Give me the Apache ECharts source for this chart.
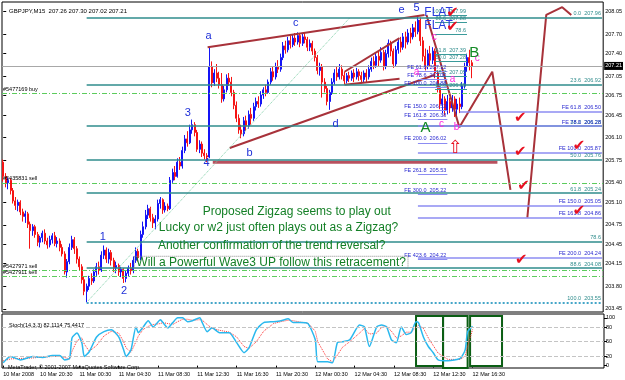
<!DOCTYPE html>
<html>
<head>
<meta charset="utf-8">
<title>GBPJPY,M15</title>
<script src="https://cdn.jsdelivr.net/npm/echarts@6/dist/echarts.min.js"></script>
<style>
  html, body { margin: 0; padding: 0; background: #fff; }
  #chart { width: 625px; height: 380px; }
</style>
</head>
<body>
<div id="chart"></div>
<script>
// ---- data ----
const barCount = 245 // slots on the time axis (bars + empty space on the right)

// M15 candles: [open, close, low, high]
const candles = [
  [205.72, 205.50, 205.42, 205.76], [205.50, 205.40, 205.33, 205.55], [205.40, 205.44, 205.30, 205.48], [205.44, 205.28, 205.22, 205.47],
  [205.28, 205.12, 205.08, 205.32], [205.12, 205.05, 204.98, 205.18], [205.05, 205.10, 204.96, 205.14], [205.10, 204.95, 204.90, 205.13],
  [204.95, 204.88, 204.80, 205.00], [204.88, 204.92, 204.78, 204.97], [204.92, 204.76, 204.70, 204.95], [204.76, 204.66, 204.38, 204.80],
  [204.66, 204.72, 204.58, 204.76], [204.72, 204.60, 204.55, 204.75], [204.60, 204.48, 204.42, 204.64], [204.48, 204.55, 204.40, 204.58],
  [204.55, 204.62, 204.48, 204.66], [204.62, 204.50, 204.45, 204.68], [204.50, 204.44, 204.38, 204.55], [204.44, 204.52, 204.40, 204.58],
  [204.52, 204.58, 204.46, 204.62], [204.58, 204.46, 204.42, 204.64], [204.46, 204.50, 204.40, 204.56], [204.50, 204.40, 204.34, 204.54],
  [204.40, 204.30, 204.26, 204.45], [204.30, 204.02, 203.98, 204.34], [204.02, 204.18, 203.93, 204.22], [204.18, 204.40, 204.14, 204.46],
  [204.40, 204.52, 204.36, 204.58], [204.52, 204.38, 204.30, 204.56], [204.38, 204.22, 204.15, 204.42], [204.22, 204.10, 204.04, 204.26],
  [204.10, 203.90, 203.84, 204.14], [203.90, 203.72, 203.66, 203.95], [203.72, 203.80, 203.55, 203.84], [203.80, 203.92, 203.74, 203.96],
  [203.92, 203.88, 203.82, 204.00], [203.88, 204.02, 203.85, 204.06], [204.02, 204.10, 203.96, 204.16], [204.10, 204.05, 203.98, 204.18],
  [204.05, 204.28, 204.02, 204.34], [204.28, 204.36, 204.22, 204.43], [204.36, 204.22, 204.16, 204.40], [204.22, 204.32, 204.15, 204.38],
  [204.32, 204.20, 204.12, 204.36], [204.20, 204.08, 204.02, 204.24], [204.08, 204.12, 204.00, 204.18], [204.12, 204.02, 203.96, 204.15],
  [204.02, 204.06, 203.94, 204.10], [204.06, 203.92, 203.85, 204.08], [203.92, 204.00, 203.86, 204.04], [204.00, 204.08, 203.95, 204.12],
  [204.08, 204.04, 203.98, 204.16], [204.04, 204.20, 204.00, 204.26], [204.20, 204.34, 204.16, 204.40], [204.34, 204.24, 204.18, 204.38],
  [204.24, 204.60, 204.20, 204.66], [204.60, 204.72, 204.55, 204.80], [204.72, 204.90, 204.68, 204.98], [204.90, 205.00, 204.84, 205.06],
  [205.00, 204.86, 204.80, 205.03], [204.86, 204.78, 204.70, 204.92], [204.78, 204.84, 204.68, 204.90], [204.84, 205.08, 204.80, 205.14],
  [205.08, 205.14, 205.00, 205.18], [205.14, 204.98, 204.92, 205.16], [204.98, 205.04, 204.94, 205.10], [205.04, 205.00, 204.96, 205.08],
  [205.00, 205.44, 204.98, 205.49], [205.44, 205.56, 205.40, 205.62], [205.56, 205.50, 205.44, 205.66], [205.50, 205.72, 205.48, 205.78],
  [205.72, 205.66, 205.60, 205.80], [205.66, 205.90, 205.62, 205.96], [205.90, 206.08, 205.86, 206.14], [206.08, 206.02, 205.96, 206.20],
  [206.02, 206.22, 206.00, 206.30], [206.22, 206.30, 206.16, 206.38], [206.30, 206.18, 206.12, 206.34], [206.18, 205.92, 205.88, 206.22],
  [205.92, 206.00, 205.86, 206.06], [206.00, 205.86, 205.80, 206.04], [205.86, 205.82, 205.76, 205.92], [205.82, 205.80, 205.72, 205.86],
  [205.80, 207.20, 205.78, 207.50], [207.20, 206.95, 206.88, 207.28], [206.95, 207.10, 206.90, 207.16], [207.10, 207.02, 206.96, 207.24],
  [207.02, 206.92, 206.86, 207.12], [206.92, 206.70, 206.64, 207.10], [206.70, 206.84, 206.66, 206.90], [206.84, 207.02, 206.80, 207.08],
  [207.02, 206.96, 206.90, 207.10], [206.96, 206.80, 206.74, 207.04], [206.80, 206.60, 206.54, 206.84], [206.60, 206.40, 206.34, 206.66],
  [206.40, 206.22, 206.16, 206.46], [206.22, 206.16, 206.09, 206.30], [206.16, 206.36, 206.12, 206.42], [206.36, 206.28, 206.20, 206.44],
  [206.28, 206.46, 206.24, 206.52], [206.46, 206.40, 206.30, 206.56], [206.40, 206.58, 206.36, 206.64], [206.58, 206.66, 206.52, 206.72],
  [206.66, 206.62, 206.56, 206.74], [206.62, 206.76, 206.58, 206.82], [206.76, 206.84, 206.70, 206.88], [206.84, 206.80, 206.74, 206.92],
  [206.80, 206.96, 206.78, 207.00], [206.96, 207.12, 206.92, 207.18], [207.12, 207.04, 206.98, 207.20], [207.04, 207.20, 207.00, 207.26],
  [207.20, 207.16, 207.10, 207.30], [207.16, 207.34, 207.12, 207.40], [207.34, 207.52, 207.30, 207.58], [207.52, 207.46, 207.40, 207.60],
  [207.46, 207.60, 207.42, 207.66], [207.60, 207.54, 207.48, 207.68], [207.54, 207.64, 207.50, 207.70], [207.64, 207.58, 207.52, 207.72],
  [207.58, 207.68, 207.54, 207.73], [207.68, 207.56, 207.50, 207.72], [207.56, 207.66, 207.52, 207.71], [207.66, 207.62, 207.56, 207.72],
  [207.62, 207.50, 207.44, 207.66], [207.50, 207.56, 207.44, 207.62], [207.56, 207.44, 207.38, 207.60], [207.44, 207.34, 207.28, 207.48],
  [207.34, 207.14, 207.08, 207.38], [207.14, 207.20, 207.06, 207.26], [207.20, 206.96, 206.72, 207.24], [206.96, 206.86, 206.80, 207.02],
  [206.86, 206.66, 206.60, 206.90], [206.66, 206.80, 206.53, 206.84], [206.80, 206.96, 206.76, 207.02], [206.96, 207.10, 206.92, 207.16],
  [207.10, 207.04, 206.98, 207.20], [207.04, 207.16, 207.00, 207.24], [207.16, 207.06, 207.00, 207.22], [207.06, 206.98, 206.92, 207.12],
  [206.98, 207.06, 206.94, 207.10], [207.06, 207.02, 206.96, 207.12], [207.02, 207.10, 206.98, 207.14], [207.10, 207.04, 206.96, 207.16],
  [207.04, 207.12, 207.00, 207.18], [207.12, 207.06, 206.98, 207.16], [207.06, 207.00, 206.94, 207.12], [207.00, 207.10, 206.96, 207.14],
  [207.10, 207.04, 206.96, 207.16], [207.04, 207.16, 207.00, 207.22], [207.16, 207.28, 207.12, 207.34], [207.28, 207.22, 207.16, 207.36],
  [207.22, 207.36, 207.18, 207.42], [207.36, 207.30, 207.20, 207.44], [207.30, 207.42, 207.26, 207.50], [207.42, 207.20, 207.14, 207.46],
  [207.20, 207.40, 207.16, 207.46], [207.40, 207.56, 207.34, 207.62], [207.56, 207.44, 207.36, 207.60], [207.44, 207.24, 207.18, 207.48],
  [207.24, 207.46, 207.20, 207.52], [207.46, 207.58, 207.40, 207.64], [207.58, 207.50, 207.42, 207.66], [207.50, 207.66, 207.46, 207.72],
  [207.66, 207.58, 207.48, 207.74], [207.58, 207.72, 207.54, 207.78], [207.72, 207.66, 207.56, 207.80], [207.66, 207.80, 207.62, 207.86],
  [207.80, 207.74, 207.66, 207.90], [207.74, 207.92, 207.70, 207.99], [207.92, 207.60, 207.52, 207.96], [207.60, 207.36, 207.28, 207.66],
  [207.36, 207.22, 207.14, 207.48], [207.22, 207.40, 207.16, 207.46], [207.40, 207.30, 207.20, 207.52], [207.30, 207.44, 207.24, 207.50],
  [207.44, 207.10, 207.02, 207.48], [207.10, 206.86, 206.80, 207.14], [206.86, 206.62, 206.54, 206.90], [206.62, 206.70, 206.48, 206.78],
  [206.70, 206.52, 206.44, 206.74], [206.52, 206.66, 206.46, 206.76], [206.66, 206.56, 206.48, 206.72], [206.56, 206.70, 206.50, 206.76],
  [206.70, 206.54, 206.42, 206.74], [206.54, 206.62, 206.40, 206.70], [206.62, 206.58, 206.48, 206.72], [206.58, 206.90, 206.54, 206.96],
  [206.90, 207.20, 206.86, 207.26], [207.20, 207.34, 207.12, 207.40], [207.34, 207.26, 207.14, 207.46], [207.26, 207.21, 207.02, 207.30]
]

const timeBars = [0, 15, 31, 47, 63, 79, 95, 111, 127, 143, 159, 175, 191]
const timeLabels = ['10 Mar 2008', '10 Mar 20:30', '11 Mar 00:30', '11 Mar 04:30', '11 Mar 08:30', '11 Mar 12:30',
  '11 Mar 16:30', '11 Mar 20:30', '12 Mar 00:30', '12 Mar 04:30', '12 Mar 08:30', '12 Mar 12:30', '12 Mar 16:30']
const priceTicks = [208.05, 207.70, 207.40, 207.05, 206.75, 206.45, 206.10, 205.75, 205.40, 205.10, 204.75, 204.45, 204.15, 203.80, 203.45]
const lastPrice = 207.21

// Stochastic(14,3,3)
const stochTicks = [0, 20, 50, 80, 100]
const stochBars = [0, 3, 7, 12, 16, 20, 23, 25, 27, 28, 30, 32, 33, 35, 38, 41, 44, 47, 49, 50, 52, 54, 55, 57, 59, 61,
  64, 65, 67, 69, 71, 73, 75, 77, 80, 81, 83, 85, 88, 92, 95, 98, 100, 103, 106, 110, 113, 116, 118, 121, 124, 127, 128,
  132, 134, 136, 138, 141, 145, 147, 149, 152, 154, 156, 158, 160, 162, 164, 166, 168, 169, 171, 173, 175, 177, 181, 186,
  188, 189, 191]
const stochMain = [6, 19, 12, 19, 17, 21, 21, 12, 15, 58, 68, 48, 19, 29, 60, 71, 75, 60, 33, 19, 33, 81, 69, 81, 94, 81,
  96, 90, 79, 90, 100, 100, 92, 94, 100, 90, 71, 79, 69, 69, 48, 27, 37, 75, 90, 92, 94, 98, 90, 90, 88, 54, 8,
  8, 6, 48, 50, 54, 85, 81, 40, 81, 85, 81, 54, 48, 81, 65, 69, 92, 90, 60, 40, 27, 12, 10, 15,
  33, 71, 82.11]
const stochSignal = [10, 14, 15, 16, 18, 19, 20, 17, 14, 30, 52, 58, 45, 30, 42, 62, 72, 68, 50, 37, 28, 50, 62, 76, 82, 86,
  88, 90, 88, 86, 92, 97, 97, 95, 96, 95, 86, 78, 74, 70, 60, 40, 36, 50, 72, 88, 92, 95, 94, 91, 89, 72, 50,
  14, 8, 22, 38, 50, 68, 78, 66, 68, 80, 82, 72, 58, 62, 70, 70, 80, 84, 78, 58, 42, 26, 13, 13,
  20, 40, 75.44]

// Fibonacci retracement 203.55 -> 207.96
const fibLevels = [207.96, 206.92, 206.28, 205.76, 205.24, 204.49, 204.08, 203.55]
const fibLabels = ['0.0  207.96', '23.6  206.92', '38.2  206.28', '50.0  205.76', '61.8  205.24', '78.6', '88.6  204.08', '100.0  203.55']
// small retracement near the top
const fib2Levels = [207.99, 207.88, 207.70, 207.39, 207.28, 207.05, 206.85]
const fib2Labels = ['100.0  207.99', '88.6  207.88', '78.6', '61.8  207.39', '50.0  207.28', '38.2  207.05', '23.6  206.85']
// Fibonacci expansions
const feRightLevels = [206.50, 206.28, 205.87, 205.05, 204.86, 204.24]
const feRightLabels = ['FE 61.8  206.50', 'FE 78.6  206.28', 'FE 100.0  205.87', 'FE 150.0  205.05', 'FE 161.8  204.86', 'FE 200.0  204.24']
const feRightStart = [186, 169, 169, 169, 169, 169]
const feLeftLevels = [207.12, 207.00, 206.88, 206.52, 206.38, 206.02, 205.53, 205.22, 204.22]
const feLeftLabels = ['FE 61.8  207.12', 'FE 78.6  207.00', 'FE 100.0  206.88', 'FE 150.0  206.52', 'FE 161.8  206.38',
  'FE 200.0  206.02', 'FE 261.8  205.53', 'FE 300.0  205.22', 'FE 423.6  204.22']
// open orders
const orderLevels = [206.78, 205.40, 204.05, 203.95]
const orderLabels = ['#5477169 buy', '#5435831 sell', '#5427971 sell', '#5427911 sell']

// hand drawn objects (bar position, price)
const channelTop = [[83.3, 207.50], [171.7, 208.00]]
const channelBottom = [[92.3, 205.94], [175.7, 207.07]]
const wedgeTop = [[139.1, 207.12], [161.5, 207.64]]
const wedgeBottom = [[139.1, 206.92], [161.5, 207.01]]
const supportLine = [[85.4, 205.72], [201.4, 205.72]]
const projectionDown = [[172.5, 208.00], [185.9, 206.26], [199.3, 207.12], [206.7, 205.29]]
const projectionUp = [[213.6, 204.86], [221.3, 208.00], [227.8, 208.12], [231.5, 208.00]]
const trendDotted = [[34.5, 203.57], [141.1, 207.95]]

const waveText = ['a', 'b', 'c', 'd', 'e', '5', '3', '4', '1', '2']
const waveBar = [83.7, 100.4, 119.2, 135.4, 162.3, 168.4, 75.2, 82.9, 40.6, 49.2]
const wavePrice = [207.67, 205.86, 207.88, 206.31, 208.08, 208.11, 206.48, 205.71, 204.56, 203.73]
const pinkText = ['a', 'a', 'c', 'b', 'c', 'c']
const pinkBar = [168.4, 183.1, 178.6, 184.7, 175.7, 193.2]
const pinkPrice = [207.12, 207.01, 206.30, 206.26, 207.66, 207.33]
const greenText = ['A', 'B']
const greenBar = [172.1, 192.0]
const greenPrice = [206.25, 207.41]
const flatBar = [177.4, 177.4]
const flatPrice = [208.03, 207.84]
const checkBar = [183.1, 183.1, 210.7, 210.7, 234.7, 212.0, 234.7, 211.1]
const checkPrice = [208.03, 207.81, 206.40, 205.88, 205.97, 205.35, 204.96, 204.21]
const noteText = ['Proposed Zigzag seems to play out', 'Lucky or w2 just often plays out as a Zigzag?',
  'Another confirmation of the trend reversal?', 'Will a Powerful Wave3 UP follow this retracement?']
const noteBar = [119.6, 112.2, 109.4, 109.2]
const notePrice = [204.95, 204.70, 204.42, 204.17]

// ---- chart ----
const chart = echarts.init(document.getElementById('chart'))
const font = 'Liberation Sans'
const cats = []
for (let i = 0; i < barCount; i++) cats.push(String(i))

// horizontal segment for markLine
function hSeg (x1, x2, y, text, color, textColor, width, type, pos) {
  return [
    {
      coord: [x1, y],
      lineStyle: {color: color, width: width, type: type},
      label: {
        show: !!text, formatter: text || '', position: pos || 'insideEndTop', distance: 1,
        color: textColor, fontSize: 5.5, fontFamily: font
      }
    },
    {coord: [x2, y]}
  ]
}

const mainLines = []
fibLevels.forEach(function (v, i) {
  const last = i === fibLevels.length - 1
  mainLines.push(hSeg(34, 244, v, fibLabels[i], last ? '#45a6c8' : '#2f8c8c', '#2f8c8c', last ? 2 : 1.5, last ? 'dotted' : 'solid'))
})
fib2Levels.forEach(function (v, i) {
  mainLines.push(hSeg(176, 189, v, fib2Labels[i], '#3a9a9a', '#2f8c8c', 1, 'solid'))
})
feRightLevels.forEach(function (v, i) {
  mainLines.push(hSeg(feRightStart[i], 244, v, feRightLabels[i], '#8c8cf2', '#2a2ad0', 1.5, 'solid'))
})
feLeftLevels.forEach(function (v, i) {
  mainLines.push(hSeg(169, 181, v, feLeftLabels[i], '#8c8cf2', '#2a2ad0', 1, 'solid'))
})
orderLevels.forEach(function (v, i) {
  mainLines.push({
    yAxis: v,
    lineStyle: {color: '#5ccc5c', width: 1, type: [5, 2, 1, 2]},
    label: {show: true, formatter: orderLabels[i], position: 'insideStartTop', distance: 1, color: '#000', fontSize: 5.5, fontFamily: font}
  })
})
mainLines.push({
  yAxis: lastPrice,
  lineStyle: {color: '#a8a8a8', width: 1, type: 'solid'},
  label: {
    show: true, formatter: lastPrice.toFixed(2), position: 'end', distance: 1,
    color: '#fff', backgroundColor: '#000', padding: [1, 1], fontSize: 5.5, fontFamily: font
  }
})

function textData (texts, bars, prices, label) {
  return texts.map(function (t, i) {
    return {value: [bars[i], prices[i]], label: Object.assign({show: true, position: 'inside', formatter: t, opacity: 1}, label)}
  })
}
let notes = []
notes = notes.concat(textData(waveText, waveBar, wavePrice, {color: '#1f30d8', fontSize: 11, fontFamily: font}))
notes = notes.concat(textData(pinkText, pinkBar, pinkPrice, {color: '#ff22dd', fontSize: 10, fontFamily: font}))
notes = notes.concat(textData(greenText, greenBar, greenPrice, {color: '#138a25', fontSize: 15, fontFamily: font}))
notes = notes.concat(textData(['FLAT', 'FLAT'], flatBar, flatPrice, {color: '#2a3ae0', fontSize: 12, fontFamily: font}))
notes = notes.concat(textData(checkBar.map(function () { return '✔' }), checkBar, checkPrice, {color: '#e81020', fontSize: 15, fontFamily: 'DejaVu Sans'}))
notes = notes.concat(textData(['⇧'], [184.3], [205.94], {color: '#e81020', fontSize: 18, fontFamily: 'DejaVu Sans'}))
notes = notes.concat(textData(noteText.slice(0, 3), noteBar, notePrice, {color: '#137f25', fontSize: 12, fontFamily: font}))
notes = notes.concat(textData(noteText.slice(3), noteBar.slice(3), notePrice.slice(3), {
  color: '#137f25', fontSize: 12, fontFamily: font, borderColor: '#8a8a8a', borderWidth: 1, borderType: 'dotted', padding: [0, 2]
}))

function drawn (points, color, width, type) {
  return {
    type: 'line', xAxisIndex: 1, yAxisIndex: 0, data: points, symbol: 'none', silent: true, z: 4,
    lineStyle: {color: color, width: width, type: type || 'solid'}
  }
}

const showLabel = function (index) { return timeBars.indexOf(index) >= 0 }

chart.setOption({
  animation: false,
  backgroundColor: '#fff',
  title: [
    {text: 'GBPJPY,M15  207.26 207.30 207.02 207.21', left: 4, top: 3, textStyle: {fontSize: 6, fontWeight: 'normal', color: '#000', fontFamily: font}},
    {text: 'Stoch(14,3,3) 82.1114 75.4417', left: 4, top: 317, textStyle: {fontSize: 5.5, fontWeight: 'normal', color: '#000', fontFamily: font}},
    {text: 'MetaTrader, © 2001-2007 MetaQuotes Software Corp.', left: 3, top: 359, textStyle: {fontSize: 5.5, fontWeight: 'normal', color: '#000', fontFamily: font}}
  ],
  grid: [
    {left: 2, right: 21, top: 2, height: 310, show: true, borderColor: '#000', borderWidth: 1, backgroundColor: '#fff'},
    {left: 2, right: 21, top: 314, height: 54, show: true, borderColor: '#000', borderWidth: 1, backgroundColor: '#fff'}
  ],
  xAxis: [
    {type: 'category', gridIndex: 0, data: cats, boundaryGap: true, axisLine: {show: false}, axisTick: {show: false}, axisLabel: {show: false}},
    {type: 'value', gridIndex: 0, min: -0.5, max: barCount - 0.5, show: false},
    {
      type: 'category', gridIndex: 1, data: cats, boundaryGap: true,
      axisLine: {show: false},
      axisTick: {show: true, interval: showLabel, alignWithLabel: true, length: 2, lineStyle: {color: '#000'}},
      axisLabel: {
        interval: showLabel, align: 'left', margin: 3, fontSize: 5.5, color: '#000', fontFamily: font,
        formatter: function (v) { return timeLabels[timeBars.indexOf(Number(v))] || '' }
      }
    }
  ],
  yAxis: [
    {
      type: 'value', gridIndex: 0, position: 'right', min: 203.40, max: 208.20,
      splitLine: {show: false}, axisLine: {show: false},
      axisTick: {show: true, customValues: priceTicks, length: 3, lineStyle: {color: '#000'}},
      axisLabel: {customValues: priceTicks, formatter: function (v) { return v.toFixed(2) }, fontSize: 5.5, margin: 2, color: '#000', fontFamily: font}
    },
    {
      type: 'value', gridIndex: 1, position: 'right', min: -5, max: 108,
      splitLine: {show: false}, axisLine: {show: false},
      axisTick: {show: true, customValues: stochTicks, length: 3, lineStyle: {color: '#000'}},
      axisLabel: {customValues: stochTicks, fontSize: 5.5, margin: 2, color: '#000', fontFamily: font}
    }
  ],
  series: [
    {
      type: 'candlestick', xAxisIndex: 0, yAxisIndex: 0, data: candles, barWidth: 1.5,
      itemStyle: {color: '#1414f5', color0: '#f51414', borderColor: '#1414f5', borderColor0: '#f51414', borderWidth: 1},
      markLine: {symbol: ['none', 'none'], silent: true, animation: false, data: mainLines}
    },
    drawn(channelTop, '#a8323a', 2),
    drawn(channelBottom, '#a8323a', 2),
    drawn(wedgeTop, '#a8323a', 2),
    drawn(wedgeBottom, '#a8323a', 2),
    drawn(supportLine, '#b8505e', 3),
    drawn(projectionDown, '#a8323a', 2),
    drawn(projectionUp, '#a8323a', 2),
    drawn(trendDotted, '#7fd0a8', 1, 'dotted'),
    {
      type: 'scatter', xAxisIndex: 1, yAxisIndex: 0, symbolSize: 0, silent: true, z: 6, data: notes,
      itemStyle: {opacity: 1}
    },
    {
      type: 'line', xAxisIndex: 2, yAxisIndex: 1, symbol: 'none', silent: true,
      data: stochBars.map(function (b, i) { return [b, stochSignal[i]] }),
      lineStyle: {color: '#ff3030', width: 1, type: 'dotted'}
    },
    {
      type: 'line', xAxisIndex: 2, yAxisIndex: 1, symbol: 'none', silent: true, smooth: 0.2,
      data: stochBars.map(function (b, i) { return [b, stochMain[i]] }),
      lineStyle: {color: '#2ab8ee', width: 1.5},
      markLine: {
        symbol: ['none', 'none'], silent: true, label: {show: false},
        lineStyle: {color: '#c4c4c4', type: 'dashed', width: 1},
        data: [{yAxis: 20}, {yAxis: 50}, {yAxis: 80}]
      },
      markArea: {
        silent: true,
        itemStyle: {color: 'rgba(0,0,0,0)', borderColor: '#0b5e14', borderWidth: 2},
        data: [
          [{coord: [168, 104]}, {coord: [179, -1]}],
          [{coord: [179, 104]}, {coord: [189, -5]}],
          [{coord: [190, 104]}, {coord: [203, -1]}]
        ]
      }
    }
  ]
})

window.addEventListener('resize', function () {
  chart.resize()
})
</script>
</body>
</html>
